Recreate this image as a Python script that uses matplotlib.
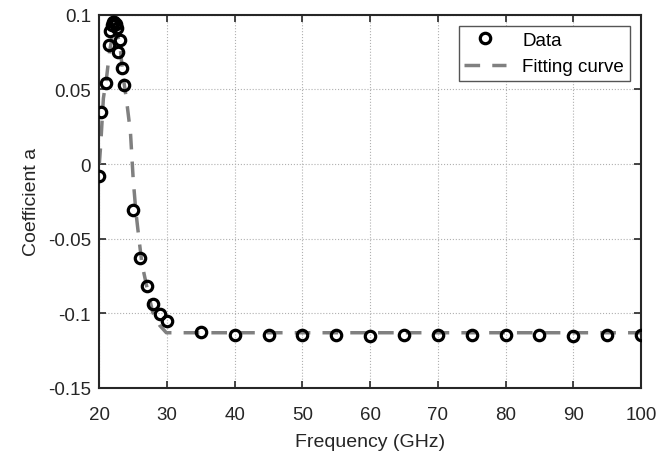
import numpy as np
import matplotlib
matplotlib.use('Agg')
import matplotlib.pyplot as plt

plt.rcParams['font.family'] = ['Liberation Sans', 'DejaVu Sans']
plt.rcParams['axes.unicode_minus'] = False

# measured coefficient a vs frequency
freq = [20, 20.3, 21, 21.4, 21.6, 21.8, 22.0, 22.2, 22.4, 22.6, 22.8, 23.0, 23.3, 23.6,
        25, 26, 27, 28, 29, 30,
        35, 40, 45, 50, 55, 60, 65, 70, 75, 80, 85, 90, 95, 100]
coef = [-0.008, 0.035, 0.054, 0.080, 0.089, 0.093, 0.095, 0.095, 0.094, 0.091, 0.075, 0.083, 0.064, 0.053,
        -0.031, -0.063, -0.082, -0.094, -0.1005, -0.105,
        -0.1125, -0.1145, -0.1145, -0.1145, -0.1145, -0.115, -0.1145, -0.1145, -0.1145,
        -0.1145, -0.1145, -0.115, -0.1145, -0.1145]

# fitting curve
fit_freq = [20, 20.2, 20.6, 21.1, 21.5, 22.2, 23.0, 23.5, 24.0, 24.6, 25.0, 25.4, 25.8, 26.3,
            27.1, 27.9, 28.9, 29.9, 100]
fit_coef = [0.0, 0.0125, 0.044, 0.059, 0.075, 0.093, 0.0815, 0.059, 0.0435, 0.021, -0.010,
            -0.032, -0.048, -0.067, -0.084, -0.0995, -0.108, -0.113, -0.113]

xticks = [20, 30, 40, 50, 60, 70, 80, 90, 100]
yticks = [-0.15, -0.1, -0.05, 0, 0.05, 0.1]
ytick_labels = ['-0.15', '-0.1', '-0.05', '0', '0.05', '0.1']

fig = plt.figure(figsize=(6.72, 4.52), dpi=100)
ax = fig.add_axes([0.1478, 0.1394, 0.9539 - 0.1478, 0.9653 - 0.1394])

ax.plot(freq, coef, 'o', mfc='none', mec='black', mew=2.3, ms=7.5, label='Data', zorder=3)
ax.plot(fit_freq, fit_coef, '--', color='#808080', lw=2.5, dashes=(4.5, 3.5),
        label='Fitting curve', zorder=2)

ax.set_xlim(20, 100)
ax.set_ylim(-0.15, 0.1)
ax.set_xticks(xticks)
ax.set_yticks(yticks)
ax.set_yticklabels(ytick_labels)
ax.tick_params(direction='in', top=True, right=True, labelsize=13.5, length=5, width=1.2,
               colors='#262626')
ax.tick_params(axis='y', pad=6)
ax.tick_params(axis='x', pad=13)
ax.grid(True, linestyle=':', color='#b0b0b0', lw=0.8)
for s in ax.spines.values():
    s.set_linewidth(1.5)
    s.set_color('#262626')

ax.set_xlabel('Frequency (GHz)', fontsize=14, color='#262626', labelpad=7)
ax.set_ylabel('Coefficient a', fontsize=14, color='#262626', labelpad=6)

leg = ax.legend(loc='upper right', numpoints=1, fontsize=13.5, fancybox=False,
                framealpha=1, edgecolor='#555555', borderaxespad=0.6, handlelength=2.2,
                borderpad=0.3, labelspacing=0.5, handletextpad=0.9)
leg.get_frame().set_linewidth(1.0)

fig.savefig('out.png', dpi=100)
